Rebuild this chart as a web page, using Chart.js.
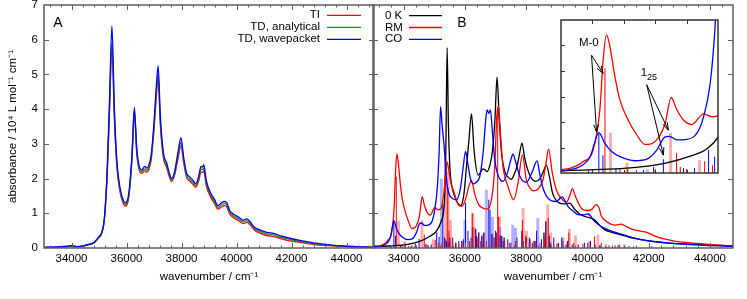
<!DOCTYPE html>
<html><head><meta charset="utf-8">
<script src="https://cdn.jsdelivr.net/npm/chart.js@4/dist/chart.umd.min.js"></script>
<style>
html,body{margin:0;padding:0;background:#fff;}
#wrap{position:relative;width:747px;height:299px;overflow:hidden;background:#fff;}
#wrap canvas{position:absolute;left:0;top:0;}
</style></head><body>
<div id="wrap">
<canvas id="cA" width="747" height="299"></canvas>
<canvas id="cB" width="747" height="299"></canvas>
<canvas id="cI" width="747" height="299"></canvas>
</div>
<script>
// ---------- Panel A data ----------
const xA = [33000,33500,33800,34000,34200,34400,34600,34800,35000,35100,35200,35300,35380,35470,35560,35650,35750,35850,35960,36080,36200,36285,36370,36450,36550,36670,36740,36810,36900,37000,37080,37150,37230,37340,37460,37560,37640,37750,37880,37980,38080,38190,38300,38420,38520,38620,38710,38760,38810,38900,39050,39200,39320,39450,39560,39650,39750,39900,40100,40240,40370,40480,40650,40850,41100,41350,41600,41850,42300,42800,43300,44000,44500,45000];
const tiA = [0.02,0.02,0.03,0.05,0.03,0.05,0.09,0.14,0.30,0.42,0.85,2.15,3.9,5.85,3.7,2.35,1.68,1.35,1.2,1.45,2.55,3.9,2.75,2.28,2.15,2.22,2.18,2.25,2.55,3.4,4.3,4.9,3.55,2.6,2.32,2.05,1.92,2.1,2.6,2.95,2.45,2.02,1.93,1.83,1.75,1.92,2.18,2.18,2.22,1.8,1.48,1.28,1.12,1.18,1.22,1.18,0.98,0.87,0.78,0.7,0.74,0.68,0.52,0.43,0.36,0.33,0.27,0.22,0.16,0.1,0.07,0.04,0.03,0.02];
const tdAnalyticalA = [0.02,0.03,0.04,0.06,0.04,0.05,0.10,0.14,0.31,0.43,0.87,2.2,4.0,5.9,3.8,2.42,1.74,1.4,1.25,1.5,2.62,3.95,2.82,2.33,2.2,2.28,2.24,2.31,2.62,3.5,4.45,5.0,3.65,2.67,2.38,2.1,1.96,2.15,2.7,3.05,2.52,2.08,1.99,1.89,1.8,1.98,2.27,2.26,2.3,1.88,1.54,1.34,1.17,1.24,1.28,1.24,1.03,0.92,0.83,0.75,0.79,0.72,0.56,0.48,0.41,0.38,0.31,0.26,0.19,0.12,0.08,0.045,0.03,0.02];
const tdWavepacketA = [0.02,0.03,0.05,0.07,0.04,0.06,0.10,0.15,0.33,0.45,0.9,2.3,4.2,6.4,4.0,2.5,1.8,1.45,1.3,1.55,2.7,4.05,2.9,2.4,2.25,2.35,2.3,2.38,2.7,3.6,4.6,5.25,3.8,2.75,2.45,2.15,2.0,2.2,2.8,3.18,2.6,2.15,2.05,1.95,1.85,2.05,2.35,2.33,2.4,1.95,1.6,1.4,1.22,1.3,1.34,1.3,1.08,0.97,0.88,0.8,0.84,0.77,0.6,0.52,0.45,0.42,0.35,0.3,0.22,0.15,0.1,0.05,0.03,0.02];

// ---------- Panel B data ----------
const zeroKX = [33000,33326,33700,34085,34520,34846,35063,35226,35335,35380,35420,35460,35508,35580,35671,35760,35857,35960,36052,36130,36215,36300,36430,36593,36660,36723,36820,36900,36980,37049,37120,37200,37300,37400,37518,37620,37700,37780,37863,37950,38050,38180,38309,38450,38560,38658,38760,38850,38928,39091,39250,39417,39580,39743,39950,40100,40231,40400,40557,40800,41100,41400,41752,42200,42620,43200,43707,44200,44750];
const zeroKY = [0.03,0.05,0.07,0.1,0.19,0.33,0.48,0.77,1.39,3.0,5.77,3.6,2.35,1.75,1.48,1.3,1.22,1.5,2.35,3.1,3.86,2.8,2.1,2.28,2.25,2.2,2.4,2.8,3.7,4.92,3.7,2.7,2.2,2.05,1.98,2.15,2.35,2.7,3.02,2.6,2.25,2.0,1.92,2.0,2.2,2.38,2.05,1.62,1.44,1.29,1.27,1.29,1.12,0.98,0.9,0.86,0.81,0.65,0.53,0.45,0.38,0.3,0.24,0.18,0.14,0.12,0.1,0.08,0.065];
const rmX = [33000,33226,33400,33481,33609,33695,33737,33780,33823,33887,33951,34036,34164,34270,34420,34526,34603,34676,34760,34867,35016,35130,35220,35300,35360,35420,35480,35550,35616,35700,35780,35900,36020,36120,36215,36320,36450,36593,36700,36866,36974,37040,37094,37160,37244,37407,37593,37733,37876,38006,38169,38270,38385,38547,38640,38730,38853,38983,39150,39309,39420,39510,39600,39798,40015,40150,40287,40380,40450,40650,40883,41100,41300,41531,41750,41912,42185,42500,42837,43200,43596,44100,44750];
const rmY = [0.06,0.07,0.14,0.22,0.45,1.24,2.22,2.71,2.48,1.89,1.43,1.1,0.75,0.56,0.65,0.97,1.48,1.24,1.04,0.95,1.16,1.1,1.15,1.5,2.0,2.48,2.2,1.85,1.68,1.45,1.25,1.2,1.4,1.75,1.95,1.55,1.25,1.15,1.12,1.39,2.35,3.79,4.09,3.3,2.35,1.77,1.39,1.87,2.68,1.96,1.68,1.65,1.7,1.96,2.4,2.85,2.16,1.68,1.42,1.32,1.5,1.71,1.5,1.15,1.08,1.12,1.25,1.15,0.93,0.75,0.66,0.69,0.6,0.52,0.48,0.46,0.35,0.26,0.2,0.16,0.13,0.09,0.06];
const coX = [33000,33226,33481,33580,33631,33682,33759,33845,33951,34143,34292,34420,34526,34580,34676,34804,34932,35016,35101,35160,35205,35260,35313,35420,35560,35726,35850,35940,36020,36100,36180,36267,36380,36485,36600,36680,36723,36780,36834,36900,36974,37100,37244,37400,37500,37570,37650,37800,38006,38200,38352,38450,38547,38765,38983,39166,39362,39550,39687,39850,40015,40231,40450,40665,41100,41752,42730,43814,44750];
const coY = [0.03,0.045,0.16,0.35,0.61,0.79,0.58,0.42,0.32,0.24,0.27,0.45,0.71,0.72,0.65,0.66,0.78,1.1,1.76,2.8,4.07,3.5,3.02,1.82,1.45,1.39,1.7,2.3,2.78,2.4,2.0,1.85,1.9,2.06,2.8,3.7,3.98,3.88,3.98,3.3,2.54,2.05,1.92,2.2,2.55,2.7,2.5,2.05,1.89,2.2,2.51,2.1,1.73,1.39,1.34,1.47,1.2,1.05,0.96,0.95,0.98,0.77,0.62,0.53,0.4,0.24,0.14,0.075,0.05];

// stick spectra (position, height)
const rmStickX = [33600,33760,33950,34050,34160,34400,34673,34720,34800,35030,35130,35250,35440,35480,35600,35800,35950,36150,36240,36420,36560,36700,36980,37070,37100,37300,37450,37650,37880,37980,38100,38300,38450,38600,38720,38900,39000,39200,39390,39550,39700,39850,40050,40230,40450,40700,40900,41050,41350,41500,42100];
const rmStickY = [0.05,2.05,0.1,0.08,0.06,0.08,0.39,0.12,0.08,0.23,0.15,0.15,1.73,0.5,0.2,0.1,0.1,0.2,1.0,0.3,0.15,0.2,0.3,4.0,0.9,0.2,0.15,0.2,0.8,0.35,0.15,0.2,0.15,0.3,0.87,0.1,0.12,0.2,0.45,0.15,0.1,0.12,0.18,0.33,0.15,0.08,0.08,0.1,0.06,0.05,0.06];
const rmPaleX = [33832,34040,34300,34596,34964,35370,35450,35530,36260,36320,37130,37900,38010,38700,38800,39410,39610,40340,40600,41200];
const rmPaleY = [0.79,0.2,0.08,0.79,0.25,2.6,2.2,0.8,1.0,0.6,0.9,1.15,0.5,1.25,0.45,0.55,0.36,0.38,0.12,0.1];
const coStickX = [33550,33682,33734,33900,34250,34380,34504,34760,34900,35080,35157,35280,35330,35400,35450,35600,35700,35800,35950,36020,36100,36200,36380,36520,36600,36780,36820,36950,37000,37150,37250,37400,37500,37700,37900,38100,38200,38340,38500,38600,38800,38900,39160,39300,39500,39700,39900,40100,40250,40400,40600,41000];
const coStickY = [0.05,0.78,0.35,0.08,0.06,0.12,0.27,0.1,0.1,0.45,0.32,1.25,0.3,0.2,0.15,0.3,0.12,0.2,0.25,1.3,0.5,0.3,0.35,0.2,0.4,1.39,1.1,0.3,0.5,0.35,0.2,0.25,0.15,0.3,0.2,0.3,0.15,0.5,0.25,0.15,0.15,0.3,0.3,0.1,0.1,0.08,0.15,0.2,0.1,0.08,0.05,0.08];
const coPaleX = [35230,35500,36000,36700,36900,37140,37560,37650,38380,39200];
const coPaleY = [2.0,0.2,0.8,1.68,0.9,0.6,0.67,0.58,0.87,0.3];
const mixStickX = [35350,35500,35700,35900,36250,36350,36450,36550,36620,36880,37020,37200,37280,37860,38000,38120,38260,38580,38640,38750,39050,39350];
const mixStickY = [0.25,0.3,0.15,0.2,0.6,0.55,0.45,0.35,0.45,0.4,0.45,0.35,0.3,0.5,0.3,0.25,0.2,0.45,0.77,0.35,0.15,0.2];

// ---------- axes / ticks ----------
const yTickLabels = [0,1,2,3,4,5,6,7];
const xTickLabels = [34000,36000,38000,40000,42000,44000];
const xMinorTicks = []; for (let v = 33200; v <= 44800; v += 400) xMinorTicks.push(v);
const insetXTicks = [33600,34000,34400,34800];
const insetYTicks = [0.5,1,1.5,2,2.5];

// inset annotations (data coordinates of the inset)
const insetArrows = [
  {from:[33589,2.31], to:[33737,1.95]},
  {from:[33589,2.31], to:[33653,0.80]},
  {from:[34292,1.73], to:[34568,0.84]},
  {from:[34292,1.73], to:[34504,0.35]}
];
const insetLabels = [{text:'M-0', sub:'', at:[33554,2.55]}, {text:'1', sub:'25', at:[34215,1.97]}];

const FONT = '"Liberation Sans", Arial, Helvetica, sans-serif';
Chart.defaults.font.family = FONT;
Chart.defaults.font.size = 11.5;
Chart.defaults.color = '#000';

const pts = (xs, ys) => xs.map((x, i) => ({x, y: ys[i]}));
const line = (label, xs, ys, color, order) => ({type:'line', label, data: pts(xs, ys), borderColor: color, backgroundColor: color, borderWidth: 1.3, pointRadius: 0, cubicInterpolationMode: 'monotone', fill: false, order});
const sticks = (xs, ys, color, w, order) => ({type:'bar', data: pts(xs, ys), backgroundColor: color, barThickness: w, grouped: false, order, borderWidth: 0, inflateAmount: 0});

const gp = {
  id: 'gp',
  beforeDatasetsDraw(chart, args, o) {
    if (o.fill) { const ca = chart.chartArea, c = chart.ctx; c.save(); c.fillStyle = o.fill; c.fillRect(ca.left, ca.top, ca.width, ca.height); c.restore(); }
  },
  afterDatasetsDraw(chart, args, o) {
    const c = chart.ctx, ca = chart.chartArea, sx = chart.scales.x, sy = chart.scales.y;
    c.save();
    c.strokeStyle = o.frameColor; c.lineWidth = 1;
    c.beginPath();
    for (const t of (o.ticks || [])) {
      for (const v of t.values) {
        if (t.side === 'bottom' || t.side === 'top') {
          const p = Math.round(sx.getPixelForValue(v)) + 0.5;
          if (p < ca.left + 1 || p > ca.right - 1) continue;
          const y0 = t.side === 'bottom' ? ca.bottom : ca.top;
          const d = t.side === 'bottom' ? -1 : 1;
          c.moveTo(p, y0); c.lineTo(p, y0 + d * t.len);
        } else {
          const p = Math.round(sy.getPixelForValue(v)) + 0.5;
          if (p < ca.top + 1 || p > ca.bottom - 1) continue;
          const x0 = t.side === 'left' ? ca.left : ca.right;
          const d = t.side === 'left' ? 1 : -1;
          c.moveTo(x0, p); c.lineTo(x0 + d * t.len, p);
        }
      }
    }
    c.stroke();
    c.lineWidth = o.frameWidth;
    c.strokeRect(ca.left, ca.top, ca.width, ca.height);
    if (o.legend) {
      const L = o.legend;
      c.font = L.size + 'px ' + FONT; c.textBaseline = 'middle'; c.fillStyle = '#000';
      chart.data.datasets.filter(d => d.label).forEach((d, i) => {
        const yy = ca.top + L.top + i * L.gap;
        c.fillStyle = '#000';
        if (L.align === 'right') {
          c.textAlign = 'right'; c.fillText(d.label, ca.right - L.textOff, yy);
          c.strokeStyle = d.borderColor; c.lineWidth = 1.3; c.beginPath();
          c.moveTo(ca.right - L.l0, yy); c.lineTo(ca.right - L.l1, yy); c.stroke();
        } else {
          c.textAlign = 'left'; c.fillText(d.label, ca.left + L.textOff, yy);
          c.strokeStyle = d.borderColor; c.lineWidth = 1.3; c.beginPath();
          c.moveTo(ca.left + L.l0, yy); c.lineTo(ca.left + L.l1, yy); c.stroke();
        }
      });
    }
    if (o.panel) {
      c.font = '14px ' + FONT; c.fillStyle = '#000'; c.textAlign = 'left'; c.textBaseline = 'middle';
      c.fillText(o.panel.text, ca.left + o.panel.dx, ca.top + o.panel.dy);
    }
    if (o.arrows) {
      c.strokeStyle = '#000'; c.lineWidth = 1;
      for (const a of o.arrows) {
        const x0 = sx.getPixelForValue(a.from[0]), y0 = sy.getPixelForValue(a.from[1]);
        const x1 = sx.getPixelForValue(a.to[0]), y1 = sy.getPixelForValue(a.to[1]);
        const ang = Math.atan2(y1 - y0, x1 - x0), h = 8, w = 0.3;
        c.beginPath(); c.moveTo(x0, y0); c.lineTo(x1, y1);
        c.moveTo(x1 - h * Math.cos(ang - w), y1 - h * Math.sin(ang - w)); c.lineTo(x1, y1);
        c.lineTo(x1 - h * Math.cos(ang + w), y1 - h * Math.sin(ang + w));
        c.stroke();
      }
    }
    if (o.labels) {
      c.fillStyle = '#000'; c.textBaseline = 'middle';
      for (const l of o.labels) {
        const x = sx.getPixelForValue(l.at[0]), y = sy.getPixelForValue(l.at[1]);
        c.font = '11.5px ' + FONT;
        if (!l.sub) { c.textAlign = 'center'; c.fillText(l.text, x, y); }
        else {
          c.textAlign = 'left'; c.fillText(l.text, x, y);
          const w = c.measureText(l.text).width;
          c.font = '9px ' + FONT; c.fillText(l.sub, x + w, y + 5);
        }
      }
    }
    c.restore();
  }
};

const frameColor = '#5e5e5e';
const xAxis = (min, max, showTitle) => ({
  type: 'linear', min, max, offset: false,
  grid: {display: false, drawTicks: false}, border: {display: false},
  afterBuildTicks: ax => { ax.ticks = xTickLabels.map(v => ({value: v})); },
  ticks: {autoSkip: false, maxRotation: 0, padding: 4, callback: v => String(v)},
  title: {display: showTitle, text: 'wavenumber / cm⁻¹', padding: {top: 0, bottom: 15}},
  afterFit: ax => { ax.height = 51; ax.paddingLeft = 0; ax.paddingRight = 0; }
});
const mainTicks = [
  {side: 'bottom', values: xMinorTicks, len: 2.5}, {side: 'bottom', values: xTickLabels, len: 5},
  {side: 'top', values: xMinorTicks, len: 2.5}, {side: 'top', values: xTickLabels, len: 5},
  {side: 'left', values: yTickLabels, len: 5}, {side: 'right', values: yTickLabels, len: 5}
];

new Chart(document.getElementById('cA'), {
  type: 'line',
  data: {datasets: [
    line('TI', xA, tiA, '#ff0000', 3),
    line('TD, analytical', xA, tdAnalyticalA, '#1e8c1e', 2),
    line('TD, wavepacket', xA, tdWavepacketA, '#0000ff', 1)
  ]},
  options: {
    responsive: false, animation: false, devicePixelRatio: 1,
    layout: {padding: {left: 0, top: 5, right: 373, bottom: 0}},
    plugins: {legend: {display: false}, tooltip: {enabled: false},
      gp: {frameColor, frameWidth: 1.5, ticks: mainTicks,
        legend: {align: 'right', size: 11.5, top: 10.3, gap: 12, textOff: 54, l0: 47, l1: 13},
        panel: {text: 'A', dx: 9.3, dy: 18.3}}},
    scales: {
      x: xAxis(33000, 45000, true),
      y: {min: 0, max: 7, grid: {display: false, drawTicks: false}, border: {display: false},
        afterBuildTicks: ax => { ax.ticks = yTickLabels.map(v => ({value: v})); },
        ticks: {padding: 6},
        title: {display: true, text: 'absorbance / 10⁴ L mol⁻¹ cm⁻¹', padding: {top: 6, bottom: 0}},
        afterFit: ax => { ax.width = 44; ax.paddingTop = 0; ax.paddingBottom = 0; }}
    }
  },
  plugins: [gp]
});

const bDatasets = () => [
  line('0 K', zeroKX, zeroKY, '#000000', 2),
  line('RM', rmX, rmY, '#ff0000', 1),
  line('CO', coX, coY, '#0000ff', 0),
  sticks(rmPaleX, rmPaleY, 'rgba(255,0,0,0.32)', 3, 9),
  sticks(coPaleX, coPaleY, 'rgba(0,0,255,0.3)', 3, 8),
  sticks(coStickX, coStickY, '#0000ff', 1, 7),
  sticks(mixStickX, mixStickY, 'rgb(85,20,110)', 1.5, 6),
  sticks(rmStickX, rmStickY, '#ff0000', 1, 5)
];

new Chart(document.getElementById('cB'), {
  type: 'line',
  data: {datasets: bDatasets()},
  options: {
    responsive: false, animation: false, devicePixelRatio: 1,
    layout: {padding: {left: 373, top: 5, right: 14, bottom: 0}},
    plugins: {legend: {display: false}, tooltip: {enabled: false},
      gp: {frameColor, frameWidth: 1.5, ticks: mainTicks,
        legend: {align: 'left', size: 11.5, top: 10.7, gap: 11.8, textOff: 12, l0: 36, l1: 69},
        panel: {text: 'B', dx: 84.3, dy: 18.3}}},
    scales: {
      x: xAxis(33000, 44750, true),
      y: {display: false, min: 0, max: 7}
    }
  },
  plugins: [gp]
});

new Chart(document.getElementById('cI'), {
  type: 'line',
  data: {datasets: bDatasets().map(d => Object.assign(d, {label: undefined}))},
  options: {
    responsive: false, animation: false, devicePixelRatio: 1,
    layout: {padding: {left: 561, top: 20, right: 29, bottom: 126}},
    plugins: {legend: {display: false}, tooltip: {enabled: false},
      gp: {fill: '#ffffff', frameColor: '#333333', frameWidth: 1.5,
        ticks: [{side: 'left', values: insetYTicks, len: 4}, {side: 'top', values: insetXTicks, len: 4}, {side: 'bottom', values: insetXTicks, len: 3}],
        arrows: insetArrows, labels: insetLabels}},
    scales: {
      x: {type: 'linear', display: false, min: 33200, max: 35200, offset: false},
      y: {display: false, min: 0, max: 3}
    }
  },
  plugins: [gp]
});
</script>
</body></html>
